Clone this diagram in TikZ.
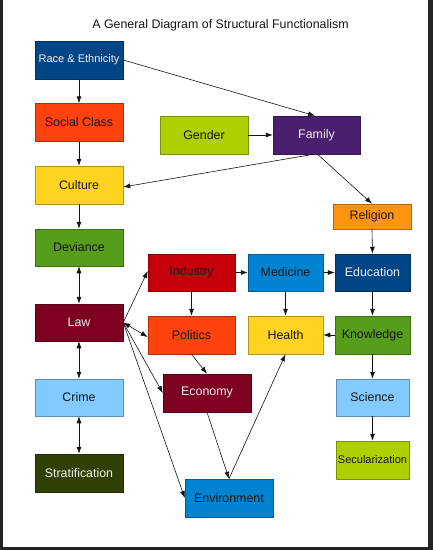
\documentclass[tikz,border=0pt]{standalone}
\usepackage{fontspec}
\setmainfont{Liberation Sans}
\usetikzlibrary{arrows.meta}
\definecolor{cDarkBlue}{HTML}{004586}
\definecolor{cOrangeRed}{HTML}{FF420E}
\definecolor{cLime}{HTML}{AECF00}
\definecolor{cPurple}{HTML}{4B1F6F}
\definecolor{cYellow}{HTML}{FFD320}
\definecolor{cOrange}{HTML}{FF950E}
\definecolor{cGreen}{HTML}{579D1C}
\definecolor{cRed}{HTML}{C5000B}
\definecolor{cBlue}{HTML}{0084D1}
\definecolor{cMaroon}{HTML}{7E0021}
\definecolor{cLightBlue}{HTML}{83CAFF}
\definecolor{cOlive}{HTML}{314004}
\definecolor{cFrame}{HTML}{232323}
\definecolor{cInk}{HTML}{151515}
\definecolor{cPale}{HTML}{F0F0F0}
\tikzset{
  box/.style={draw=#1!70!black, fill=#1, line width=0.5pt, inner sep=0pt,
    minimum height=38pt, minimum width=88pt, text=cInk,
    font=\fontsize{12.4}{14}\selectfont},
  lighttext/.style={text=cPale},
  smalltext/.style={font=\fontsize{11}{13}\selectfont},
  conn/.style={draw=cInk, line width=0.6pt, -{Latex[length=7pt,width=5pt]}},
  dconn/.style={draw=cInk, line width=0.6pt, {Latex[length=7pt,width=5pt]}-{Latex[length=7pt,width=5pt]}}
}
\begin{document}
\begin{tikzpicture}[x=1pt,y=-1pt]
\useasboundingbox (0,0) rectangle (433,550);
\fill[cFrame] (0,0) rectangle (433,550);
\fill[white] (3,0) rectangle (428,547);
\node[text=cInk, font=\fontsize{12.4}{14}\selectfont] (title) at (220.5,25) {A General Diagram of Structural Functionalism};

\node[box=cDarkBlue, lighttext, smalltext] (race) at (79,60) {Race \& Ethnicity};
\node[box=cOrangeRed] (social) at (79,122.5) {Social Class};
\node[box=cLime] (gender) at (204,135) {Gender};
\node[box=cPurple, lighttext, minimum width=87pt] (family) at (316.5,135) {Family};
\node[box=cYellow] (culture) at (79,185) {Culture};
\node[box=cOrange, minimum width=78pt, minimum height=25pt] (religion) at (372,216.5) {Religion};
\node[box=cGreen, minimum height=37pt] (deviance) at (79,247.5) {Deviance};
\node[box=cRed, minimum width=87pt, minimum height=37pt] (industry) at (191.5,272.5) {Industry};
\node[box=cBlue, minimum width=75pt, minimum height=37pt] (medicine) at (285.5,272.5) {Medicine};
\node[box=cDarkBlue, lighttext, minimum width=75pt, minimum height=37pt] (education) at (372.5,272.5) {Education};
\node[box=cMaroon, lighttext, minimum height=37pt] (law) at (79,322.5) {Law};
\node[box=cOrangeRed, minimum width=87pt] (politics) at (191.5,335) {Politics};
\node[box=cYellow, minimum width=75pt] (health) at (285.5,335) {Health};
\node[box=cGreen, minimum width=75pt] (knowledge) at (372.5,335) {Knowledge};
\node[box=cMaroon, lighttext] (economy) at (207,393) {Economy};
\node[box=cLightBlue, minimum height=37pt] (crime) at (79,397.5) {Crime};
\node[box=cLightBlue, minimum width=73pt, minimum height=37pt] (science) at (372.5,397.5) {Science};
\node[box=cOlive, lighttext] (strat) at (79,473) {Stratification};
\node[box=cLime, smalltext, minimum width=73pt] (secular) at (372.5,460) {Secularization};
\node[box=cBlue] (env) at (229,498) {Environment};

\draw[conn] (race.south) -- (social.north);
\draw[conn] (social.south) -- (culture.north);
\draw[conn] (race.east) -- ([xshift=-1.5pt]family.north);
\draw[conn] (gender.east) -- (family.west);
\draw[conn] ([xshift=-3pt]family.south) -- ([yshift=-2pt]culture.east);
\draw[conn] ([xshift=1pt]family.south) -- (religion.north);
\draw[conn] (culture.south) -- (deviance.north);
\draw[dconn] (deviance.south) -- (law.north);
\draw[dconn] (law.south) -- (crime.north);
\draw[dconn] (crime.south) -- (strat.north);
\draw[conn] (religion.south) -- (education.north);
\draw[conn] (industry.east) -- (medicine.west);
\draw[conn] (medicine.east) -- (education.west);
\draw[conn] (industry.south) -- (politics.north);
\draw[conn] (medicine.south) -- (health.north);
\draw[conn] (education.south) -- (knowledge.north);
\draw[conn] (knowledge.west) -- (health.east);
\draw[conn] (knowledge.south) -- (science.north);
\draw[conn] (science.south) -- (secular.north);
\draw[conn] (law.east) -- ([yshift=1.5pt]industry.west);
\draw[dconn] (law.east) -- ([yshift=-2pt]politics.west);
\draw[conn] (law.east) -- (economy.west);
\draw[conn] (law.east) -- (env.west);
\draw[conn] (politics.south) -- (economy.north);
\draw[conn] (economy.south) -- (env.north);
\draw[conn] (env.north) -- (health.south);
\end{tikzpicture}
\end{document}
